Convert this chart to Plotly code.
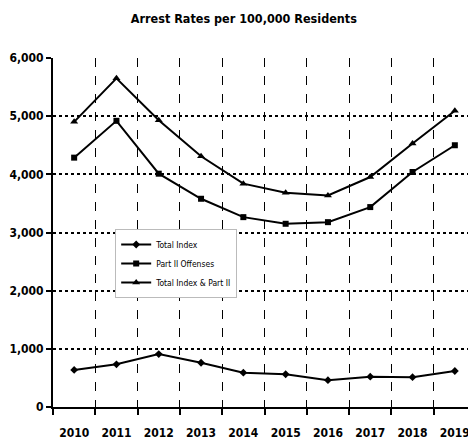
import plotly.graph_objects as go

years = ["2010", "2011", "2012", "2013", "2014", "2015", "2016", "2017", "2018", "2019"]
total_index = [637, 734, 910, 761, 590, 563, 461, 522, 512, 619]
part_ii = [4287, 4920, 4011, 3580, 3264, 3150, 3178, 3437, 4040, 4500]
combined = [4902, 5650, 4931, 4310, 3840, 3684, 3638, 3954, 4529, 5092]

FONT = "DejaVu Sans Condensed, Liberation Sans Narrow, sans-serif"

fig = go.Figure()

series = [
    ("Total Index", total_index, "diamond", 6),
    ("Part II Offenses", part_ii, "square", 6),
    ("Total Index & Part II", combined, "triangle-up", 7),
]
for name, vals, sym, size in series:
    fig.add_trace(go.Scatter(
        x=years, y=vals, name=name, mode="lines+markers",
        line=dict(color="black", width=2),
        marker=dict(symbol=sym, size=size, color="black"),
    ))

# the page body has an 8px margin, so the figure is sized/placed to compensate
fig.update_layout(
    width=468, height=438,
    margin=dict(l=45, r=0, t=50, b=39, autoexpand=False),
    paper_bgcolor="white", plot_bgcolor="white",
    title=dict(text="Arrest Rates per 100,000 Residents", x=0.504, xanchor="center",
               y=0.975, yanchor="middle",
               font=dict(family=FONT, size=12.5, color="black", weight="bold")),
    font=dict(family=FONT, color="black"),
    legend=dict(x=0.147, y=0.51, xanchor="left", yanchor="top",
                bgcolor="white", bordercolor="#bbbbbb", borderwidth=1,
                font=dict(family=FONT, size=8.5, color="black"),
                itemwidth=30, tracegroupgap=2),
)

fig.update_xaxes(
    type="category", tickson="boundaries", tickangle=0,
    showline=True, linecolor="black", linewidth=2,
    ticks="outside", ticklen=6, tickcolor="black", tickwidth=2,
    showgrid=True, gridcolor="black", gridwidth=1, griddash="dash",
    tickfont=dict(family=FONT, size=12, color="black", weight="bold"),
    ticklabelstandoff=14,
    range=[-0.5, 9.5], automargin=False,
)
fig.update_yaxes(
    range=[0, 6000], dtick=1000, tickformat=",d",
    showline=True, linecolor="black", linewidth=2,
    ticks="outside", ticklen=5, tickcolor="black", tickwidth=2,
    showgrid=True, gridcolor="black", gridwidth=2, griddash="dot",
    zeroline=False, automargin=False,
    tickfont=dict(family=FONT, size=12, color="black", weight="bold"),
)

fig.write_html("out.html")
